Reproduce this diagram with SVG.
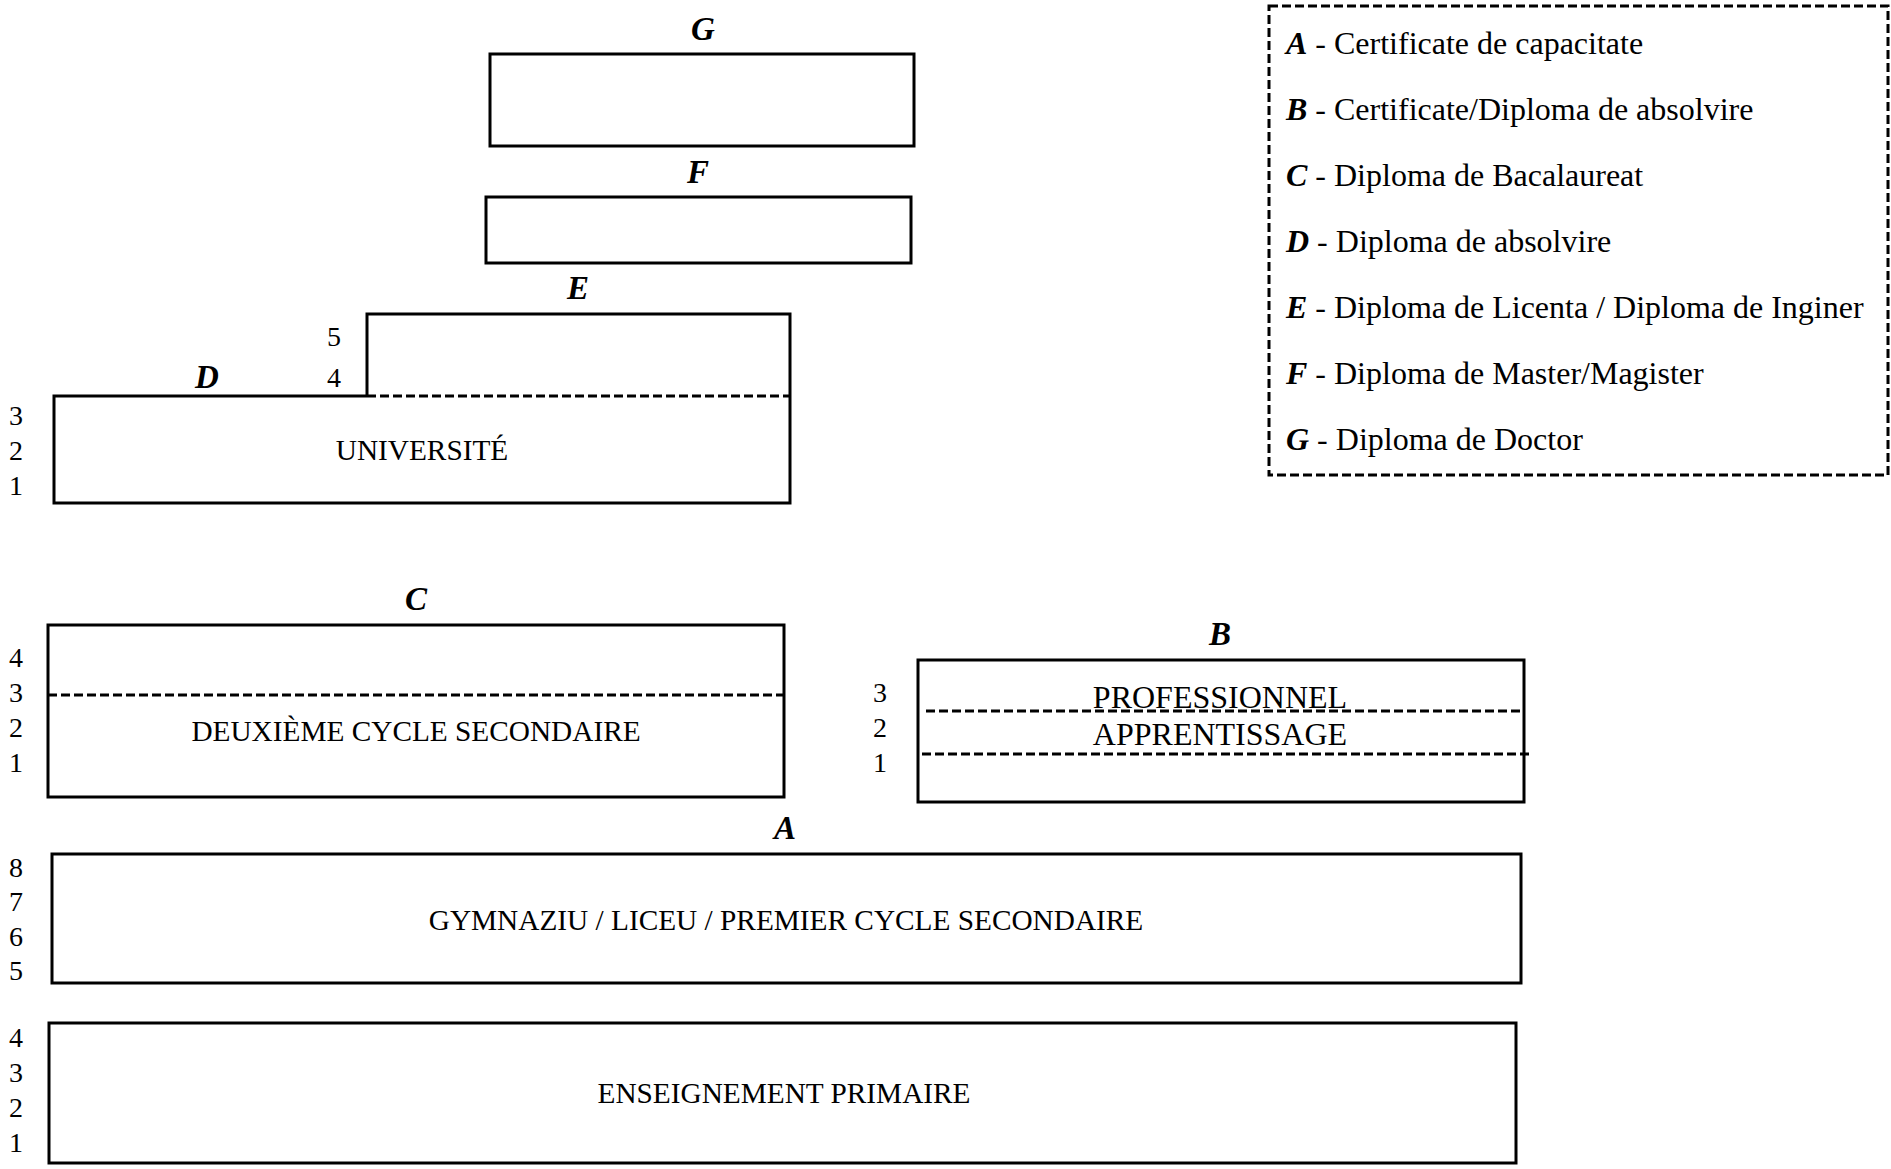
<svg xmlns="http://www.w3.org/2000/svg" width="1891" height="1169" viewBox="0 0 1891 1169">
<style>
.box{fill:none;stroke:#000;stroke-width:3}
.dash{fill:none;stroke:#000;stroke-width:3;stroke-dasharray:9 4}
text{font-family:"Liberation Serif","Times New Roman",serif;fill:#000}
.lbl{font-size:29.3px;text-anchor:middle}
.lblb{font-size:32px;text-anchor:middle}
.num{font-size:28px;text-anchor:middle}
.let{font-size:33px;font-weight:bold;font-style:italic;text-anchor:middle}
.leg{font-size:32px}
.legb{font-weight:bold;font-style:italic}
</style>
<rect width="1891" height="1169" fill="#fff"/>
<g id="legend">
<rect class="dash" x="1269" y="6" width="619" height="469"/>
<text class="leg" x="1286" y="54"><tspan class="legb">A</tspan> - Certificate de capacitate</text>
<text class="leg" x="1286" y="120"><tspan class="legb">B</tspan> - Certificate/Diploma de absolvire</text>
<text class="leg" x="1286" y="186"><tspan class="legb">C</tspan> - Diploma de Bacalaureat</text>
<text class="leg" x="1286" y="252"><tspan class="legb">D</tspan> - Diploma de absolvire</text>
<text class="leg" x="1286" y="318"><tspan class="legb">E</tspan> - Diploma de Licenta / Diploma de Inginer</text>
<text class="leg" x="1286" y="384"><tspan class="legb">F</tspan> - Diploma de Master/Magister</text>
<text class="leg" x="1286" y="450"><tspan class="legb">G</tspan> - Diploma de Doctor</text>
</g>
<g id="node-G">
<rect class="box" x="490" y="54" width="424" height="92"/>
<text class="let" x="703" y="40">G</text>
</g>
<g id="node-F">
<rect class="box" x="486" y="197" width="425" height="66"/>
<text class="let" x="698" y="183">F</text>
</g>
<g id="node-universite">
<path class="box" d="M367 396 V314 H790 V503 H54 V396 H367"/>
<line class="dash" x1="367" y1="396" x2="790" y2="396"/>
<text class="let" x="578" y="299">E</text>
<text class="let" x="207" y="388">D</text>
<text class="num" x="334" y="346">5</text>
<text class="num" x="334" y="387">4</text>
<text class="num" x="16" y="425">3</text>
<text class="num" x="16" y="460">2</text>
<text class="num" x="16" y="495">1</text>
<text class="lbl" x="422" y="460">UNIVERSITÉ</text>
</g>
<g id="node-deuxieme">
<rect class="box" x="48" y="625" width="736" height="172"/>
<line class="dash" x1="48" y1="695" x2="786" y2="695"/>
<text class="let" x="416" y="610">C</text>
<text class="num" x="16" y="667">4</text>
<text class="num" x="16" y="702">3</text>
<text class="num" x="16" y="737">2</text>
<text class="num" x="16" y="772">1</text>
<text class="lbl" x="416" y="741">DEUXIÈME CYCLE SECONDAIRE</text>
</g>
<g id="node-professionnel">
<rect class="box" x="918" y="660" width="606" height="142"/>
<text class="let" x="1220" y="645">B</text>
<text class="num" x="880" y="702">3</text>
<text class="num" x="880" y="737">2</text>
<text class="num" x="880" y="772">1</text>
<text class="lblb" x="1220" y="708">PROFESSIONNEL</text>
<text class="lblb" x="1220" y="745">APPRENTISSAGE</text>
<line class="dash" x1="926" y1="711" x2="1524" y2="711"/>
<line class="dash" x1="922" y1="754" x2="1529" y2="754"/>
</g>
<g id="node-gymnaziu">
<rect class="box" x="52" y="854" width="1469" height="129"/>
<text class="let" x="785" y="839">A</text>
<text class="num" x="16" y="877">8</text>
<text class="num" x="16" y="911">7</text>
<text class="num" x="16" y="946">6</text>
<text class="num" x="16" y="980">5</text>
<text class="lbl" x="786" y="930">GYMNAZIU / LICEU / PREMIER CYCLE SECONDAIRE</text>
</g>
<g id="node-primaire">
<rect class="box" x="49" y="1023" width="1467" height="140"/>
<text class="num" x="16" y="1047">4</text>
<text class="num" x="16" y="1082">3</text>
<text class="num" x="16" y="1117">2</text>
<text class="num" x="16" y="1152">1</text>
<text class="lbl" x="784" y="1103">ENSEIGNEMENT PRIMAIRE</text>
</g>
<g id="connectors"></g>
</svg>
